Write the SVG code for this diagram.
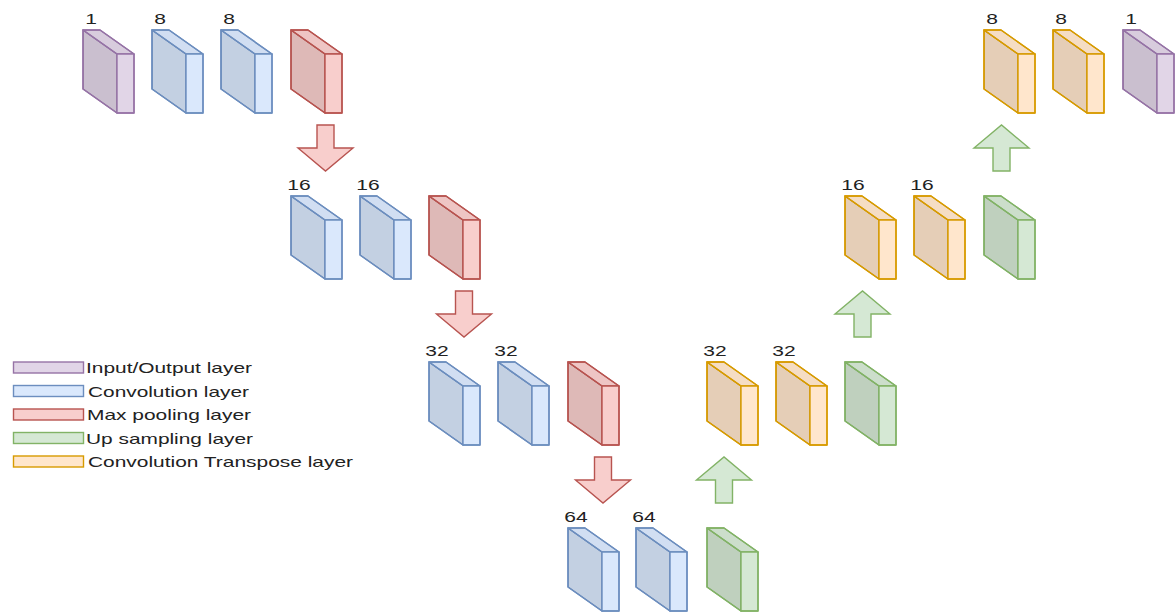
<svg xmlns="http://www.w3.org/2000/svg" xmlns:xlink="http://www.w3.org/1999/xlink" width="1176" height="612" viewBox="0 0 1176 612">
  <style>
    .blk { stroke-width: 1.4; stroke-linejoin: round; }
    .io { fill: #e1d5e7; stroke: #9673a6; }
    .conv { fill: #dae8fc; stroke: #6c8ebf; }
    .pool { fill: #f8cecc; stroke: #b85450; }
    .up { fill: #d5e8d4; stroke: #82b366; }
    .tconv { fill: #ffe6cc; stroke: #d79b00; }
    .shade { fill: #000; fill-opacity: 0.1; stroke: none; }
    .shade2 { fill: #000; fill-opacity: 0.04; stroke: none; }
    .lbl { font-family: "Liberation Sans", Arial, sans-serif; font-size: 14px; fill: #222; text-anchor: middle; }
    .leg { font-family: "Liberation Sans", Arial, sans-serif; font-size: 15px; fill: #222; }
    .arrow-down { fill: #f8cecc; stroke: #b85450; stroke-width: 1.4; }
    .arrow-up { fill: #d5e8d4; stroke: #82b366; stroke-width: 1.4; }
    .key { stroke-width: 1.4; }
  </style>
  <defs>
    <!-- one layer slab: side face, top face, front face; colours come from the enclosing group -->
    <g id="slab">
      <path d="M0,0 L34,24 L34,83 L0,59 Z"/>
      <path d="M0,0 L34,24 L34,83 L0,59 Z" class="shade"/>
      <path d="M0,0 L17,0 L51,24 L34,24 Z"/>
      <path d="M0,0 L17,0 L51,24 L34,24 Z" class="shade2"/>
      <path d="M34,24 H51 V83 H34 Z"/>
      <path d="M0,0 L34,24 M0,0 L17,0 L51,24 L51,83 L34,83 L0,59 Z" fill="none"/>
    </g>
    <path id="down" d="M-8.5,0 H8.5 V23 H27.5 L0,46 L-27.5,23 H-8.5 Z"/>
    <path id="upA" d="M-8.5,46 H8.5 V23 H27.5 L0,0 L-27.5,23 H-8.5 Z"/>
  </defs>

  <!-- encoder, row 1 -->
  <g id="enc1-in" class="blk io"><use xlink:href="#slab" x="83" y="30"/></g>
  <g id="enc1-conv1" class="blk conv"><use xlink:href="#slab" x="152" y="30"/></g>
  <g id="enc1-conv2" class="blk conv"><use xlink:href="#slab" x="221" y="30"/></g>
  <g id="enc1-pool" class="blk pool"><use xlink:href="#slab" x="291" y="30"/></g>

  <!-- encoder, row 2 -->
  <g id="enc2-conv1" class="blk conv"><use xlink:href="#slab" x="291" y="196"/></g>
  <g id="enc2-conv2" class="blk conv"><use xlink:href="#slab" x="360" y="196"/></g>
  <g id="enc2-pool" class="blk pool"><use xlink:href="#slab" x="429" y="196"/></g>

  <!-- encoder, row 3 -->
  <g id="enc3-conv1" class="blk conv"><use xlink:href="#slab" x="429" y="362"/></g>
  <g id="enc3-conv2" class="blk conv"><use xlink:href="#slab" x="498" y="362"/></g>
  <g id="enc3-pool" class="blk pool"><use xlink:href="#slab" x="568" y="362"/></g>

  <!-- bottleneck -->
  <g id="mid-conv1" class="blk conv"><use xlink:href="#slab" x="568" y="528"/></g>
  <g id="mid-conv2" class="blk conv"><use xlink:href="#slab" x="636" y="528"/></g>
  <g id="mid-up" class="blk up"><use xlink:href="#slab" x="707" y="528"/></g>

  <!-- decoder, row 3 -->
  <g id="dec3-tconv1" class="blk tconv"><use xlink:href="#slab" x="707" y="362"/></g>
  <g id="dec3-tconv2" class="blk tconv"><use xlink:href="#slab" x="776" y="362"/></g>
  <g id="dec3-up" class="blk up"><use xlink:href="#slab" x="845" y="362"/></g>

  <!-- decoder, row 2 -->
  <g id="dec2-tconv1" class="blk tconv"><use xlink:href="#slab" x="845" y="196"/></g>
  <g id="dec2-tconv2" class="blk tconv"><use xlink:href="#slab" x="914" y="196"/></g>
  <g id="dec2-up" class="blk up"><use xlink:href="#slab" x="984" y="196"/></g>

  <!-- decoder, row 1 -->
  <g id="dec1-tconv1" class="blk tconv"><use xlink:href="#slab" x="984" y="30"/></g>
  <g id="dec1-tconv2" class="blk tconv"><use xlink:href="#slab" x="1053" y="30"/></g>
  <g id="dec1-out" class="blk io"><use xlink:href="#slab" x="1123" y="30"/></g>

  <!-- channel counts -->
  <g id="labels">
    <text class="lbl" transform="translate(91,24) scale(1.5,1)">1</text>
    <text class="lbl" transform="translate(160,24) scale(1.5,1)">8</text>
    <text class="lbl" transform="translate(229,24) scale(1.5,1)">8</text>
    <text class="lbl" transform="translate(299,190) scale(1.5,1)">16</text>
    <text class="lbl" transform="translate(368,190) scale(1.5,1)">16</text>
    <text class="lbl" transform="translate(437,356) scale(1.5,1)">32</text>
    <text class="lbl" transform="translate(506,356) scale(1.5,1)">32</text>
    <text class="lbl" transform="translate(576,522) scale(1.5,1)">64</text>
    <text class="lbl" transform="translate(644,522) scale(1.5,1)">64</text>
    <text class="lbl" transform="translate(715,356) scale(1.5,1)">32</text>
    <text class="lbl" transform="translate(784,356) scale(1.5,1)">32</text>
    <text class="lbl" transform="translate(853,190) scale(1.5,1)">16</text>
    <text class="lbl" transform="translate(922,190) scale(1.5,1)">16</text>
    <text class="lbl" transform="translate(992,24) scale(1.5,1)">8</text>
    <text class="lbl" transform="translate(1061,24) scale(1.5,1)">8</text>
    <text class="lbl" transform="translate(1131,24) scale(1.5,1)">1</text>
  </g>

  <!-- flow arrows between stages -->
  <g id="connectors">
    <use xlink:href="#down" class="arrow-down" x="325.5" y="125"/>
    <use xlink:href="#down" class="arrow-down" x="464" y="291"/>
    <use xlink:href="#down" class="arrow-down" x="603" y="457"/>
    <use xlink:href="#upA" class="arrow-up" x="724" y="457"/>
    <use xlink:href="#upA" class="arrow-up" x="862.5" y="291"/>
    <use xlink:href="#upA" class="arrow-up" x="1001.5" y="125"/>
  </g>

  <!-- legend -->
  <g id="legend">
    <rect class="key" x="13.5" y="362" width="70" height="11" fill="#e1d5e7" stroke="#9673a6"/>
    <rect class="key" x="13.5" y="385.5" width="70" height="11" fill="#dae8fc" stroke="#6c8ebf"/>
    <rect class="key" x="13.5" y="409" width="70" height="11" fill="#f8cecc" stroke="#b85450"/>
    <rect class="key" x="13.5" y="432.5" width="70" height="11" fill="#d5e8d4" stroke="#82b366"/>
    <rect class="key" x="13.5" y="456" width="70" height="11" fill="#ffe6cc" stroke="#d79b00"/>
    <text class="leg" x="86" y="373" textLength="166" lengthAdjust="spacingAndGlyphs">Input/Output layer</text>
    <text class="leg" x="88" y="396.5" textLength="161" lengthAdjust="spacingAndGlyphs">Convolution layer</text>
    <text class="leg" x="87" y="420" textLength="164" lengthAdjust="spacingAndGlyphs">Max pooling layer</text>
    <text class="leg" x="86" y="443.5" textLength="167" lengthAdjust="spacingAndGlyphs">Up sampling layer</text>
    <text class="leg" x="88" y="467" textLength="265" lengthAdjust="spacingAndGlyphs">Convolution Transpose layer</text>
  </g>
</svg>
